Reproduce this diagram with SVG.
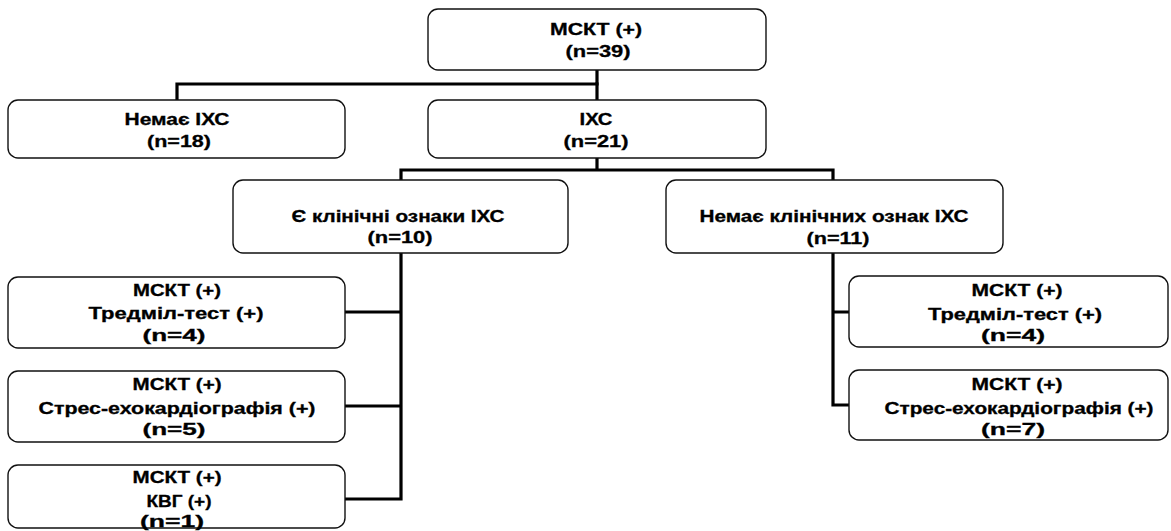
<svg xmlns="http://www.w3.org/2000/svg" width="1171" height="531" viewBox="0 0 1171 531">
<style>
.box{fill:#fff;stroke:#111;stroke-width:1.4}
.t{font-family:"Liberation Sans",Arial,sans-serif;font-weight:bold;font-size:16px;fill:#000;stroke:#000;stroke-width:0.3;text-anchor:middle}
.c{stroke:#000;stroke-width:3.2;fill:none;stroke-linecap:square}
</style>
<rect width="1171" height="531" fill="#fff"/>
<g id="connectors">
<path class="c" d="M597 70V84H177V100"/>
<path class="c" d="M597 84V100"/>
<path class="c" d="M597 158V170H401V180M597 170H833V180"/>
<path class="c" d="M401 253V499M345 312H401M345 406H401M345 499H401"/>
<path class="c" d="M833 253V405M833 312H849M833 405H849"/>
</g>
<g id="n1">
<rect class="box" x="428" y="9" width="338" height="61" rx="10"/>
<text class="t" x="596" y="35" textLength="92" lengthAdjust="spacingAndGlyphs">МСКТ (+)</text>
<text class="t" x="598" y="57" textLength="65" lengthAdjust="spacingAndGlyphs">(n=39)</text>
</g>
<g id="n2">
<rect class="box" x="8" y="100" width="337" height="58" rx="10"/>
<text class="t" x="177" y="125" textLength="105" lengthAdjust="spacingAndGlyphs">Немає ІХС</text>
<text class="t" x="179" y="147" textLength="64" lengthAdjust="spacingAndGlyphs">(n=18)</text>
</g>
<g id="n3">
<rect class="box" x="428" y="100" width="338" height="58" rx="10"/>
<text class="t" x="596" y="125" textLength="33" lengthAdjust="spacingAndGlyphs">ІХС</text>
<text class="t" x="596" y="147" textLength="65" lengthAdjust="spacingAndGlyphs">(n=21)</text>
</g>
<g id="n4">
<rect class="box" x="233" y="180" width="335" height="73" rx="10"/>
<text class="t" x="398" y="222" textLength="213" lengthAdjust="spacingAndGlyphs">Є клінічні ознаки ІХС</text>
<text class="t" x="400" y="243" textLength="65" lengthAdjust="spacingAndGlyphs">(n=10)</text>
</g>
<g id="n5">
<rect class="box" x="666" y="180" width="337" height="73" rx="10"/>
<text class="t" x="834" y="222" textLength="269" lengthAdjust="spacingAndGlyphs">Немає клінічних ознак ІХС</text>
<text class="t" x="838" y="244" textLength="63" lengthAdjust="spacingAndGlyphs">(n=11)</text>
</g>
<g id="n6">
<rect class="box" x="8" y="277" width="337" height="71" rx="10"/>
<text class="t" x="177" y="296" textLength="88" lengthAdjust="spacingAndGlyphs">МСКТ (+)</text>
<text class="t" x="176" y="319" textLength="175" lengthAdjust="spacingAndGlyphs">Тредміл-тест (+)</text>
<text class="t" x="174" y="341" textLength="63" lengthAdjust="spacingAndGlyphs">(n=4)</text>
</g>
<g id="n7">
<rect class="box" x="8" y="371" width="337" height="71" rx="10"/>
<text class="t" x="177" y="390" textLength="89" lengthAdjust="spacingAndGlyphs">МСКТ (+)</text>
<text class="t" x="177" y="414" textLength="277" lengthAdjust="spacingAndGlyphs">Стрес-ехокардіографія (+)</text>
<text class="t" x="174" y="435" textLength="63" lengthAdjust="spacingAndGlyphs">(n=5)</text>
</g>
<g id="n8">
<rect class="box" x="8" y="465" width="337" height="63" rx="10"/>
<text class="t" x="177" y="483" textLength="89" lengthAdjust="spacingAndGlyphs">МСКТ (+)</text>
<text class="t" x="179" y="507" textLength="65" lengthAdjust="spacingAndGlyphs">КВГ (+)</text>
<text class="t" x="172" y="527" textLength="64" lengthAdjust="spacingAndGlyphs">(n=1)</text>
</g>
<g id="n9">
<rect class="box" x="849" y="276" width="319" height="71" rx="10"/>
<text class="t" x="1017" y="296" textLength="91" lengthAdjust="spacingAndGlyphs">МСКТ (+)</text>
<text class="t" x="1015" y="320" textLength="174" lengthAdjust="spacingAndGlyphs">Тредміл-тест (+)</text>
<text class="t" x="1013" y="341" textLength="64" lengthAdjust="spacingAndGlyphs">(n=4)</text>
</g>
<g id="n10">
<rect class="box" x="849" y="370" width="319" height="70" rx="10"/>
<text class="t" x="1017" y="390" textLength="91" lengthAdjust="spacingAndGlyphs">МСКТ (+)</text>
<text class="t" x="1019" y="414" textLength="269" lengthAdjust="spacingAndGlyphs">Стрес-ехокардіографія (+)</text>
<text class="t" x="1013" y="435" textLength="64" lengthAdjust="spacingAndGlyphs">(n=7)</text>
</g>
</svg>
